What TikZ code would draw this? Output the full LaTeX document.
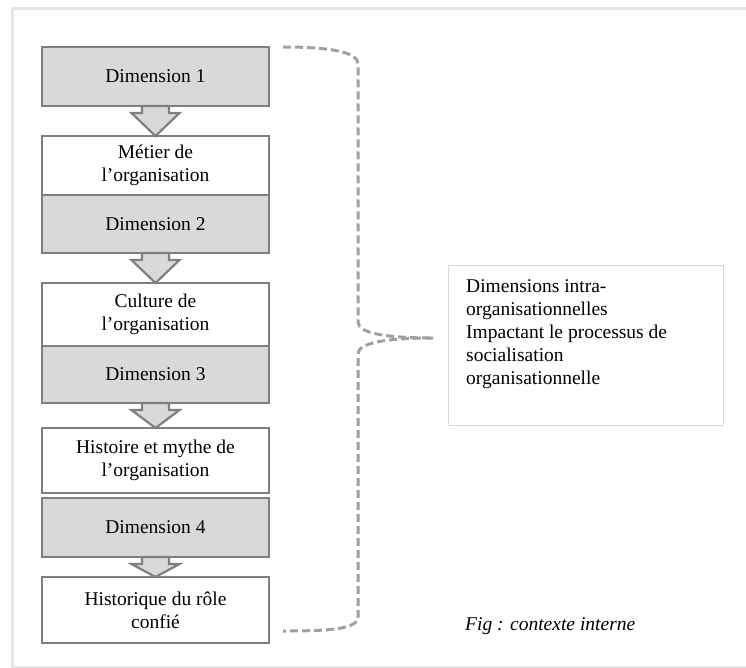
\documentclass[tikz,border=0pt]{standalone}
\usepackage{fontspec}
\setmainfont{Liberation Serif}
\usetikzlibrary{positioning,calc}

\definecolor{bordgris}{HTML}{7F7F7F}
\definecolor{fondgris}{HTML}{D9D9D9}
\definecolor{tiretgris}{HTML}{A0A0A0}
\definecolor{cadregris}{HTML}{E6E6E6}

\tikzset{
  boite/.style={draw=bordgris,line width=2.2pt,minimum width=227pt,
    outer sep=0pt,inner sep=0pt,align=center,
    font=\fontsize{19.5}{23}\selectfont},
  dimbox/.style={boite,fill=fondgris},
  blanc/.style={boite,fill=white},
  fleche/.style={draw=bordgris,line width=2.2pt,fill=fondgris,line join=miter},
  accolade/.style={draw=tiretgris,line width=3pt,dash pattern=on 8pt off 4pt},
  texte/.style={font=\fontsize{19.5}{23}\selectfont,inner sep=0pt,align=left},
}

% fleche pleine entre deux boites
\newcommand{\flechebloc}[2]{%
  \draw[fleche] ($(#1.south)+(-13.5,0)$) -- ($(#1.south)+(13.5,0)$)
    -- ($(#1.south)+(13.5,7)$) -- ($(#1.south)+(24,7)$) -- (#2.north)
    -- ($(#1.south)+(-24,7)$) -- ($(#1.south)+(-13.5,7)$) -- cycle;}

\begin{document}
\begin{tikzpicture}[x=1pt,y=-1pt]
  \useasboundingbox (0,0) rectangle (746,668);
  \draw[cadregris,line width=3pt] (746,9) -- (12,9) -- (12,667) -- (746,667);

  \node[dimbox,minimum height=59pt,anchor=north] (dim1) at (155.5,47) {Dimension 1};
  \node[blanc,minimum height=59pt,below=30pt of dim1] (metier) {Métier de\\l’organisation};
  \node[dimbox,minimum height=58pt,below=0pt of metier] (dim2) {Dimension 2};
  \node[blanc,minimum height=63pt,below=30pt of dim2] (culture) {Culture de\\l’organisation};
  \node[dimbox,minimum height=57pt,below=0pt of culture] (dim3) {Dimension 3};
  \node[blanc,minimum height=65pt,below=25pt of dim3] (histoire) {Histoire et mythe de\\l’organisation};
  \node[dimbox,minimum height=59pt,below=5pt of histoire] (dim4) {Dimension 4};
  \node[blanc,minimum height=66pt,below=20pt of dim4] (historique) {Historique du rôle\\confié};

  \flechebloc{dim1}{metier}
  \flechebloc{dim2}{culture}
  \flechebloc{dim3}{histoire}
  \flechebloc{dim4}{historique}

  % accolade
  \coordinate (haut) at (283,47);
  \coordinate (pointe) at (433,338);
  \coordinate (bas) at (283,631);
  \draw[accolade] (haut) .. controls (330,47) and (358,52) .. (358,64)
    -- (358,322) .. controls (358,334) and (390,338) .. (pointe);
  \draw[accolade] (pointe) .. controls (390,338) and (358,342) .. (358,354)
    -- (358,617) .. controls (358,629) and (330,631) .. (bas);

  \node[draw=fondgris,line width=1pt,minimum width=275pt,minimum height=160pt,
    anchor=north west] (legende) at (448,265) {};
  \node[texte,anchor=north west] (legtexte) at ($(legende.north west)+(18,14)$)
    {Dimensions intra-\\organisationnelles\\Impactant le processus de\\socialisation\\organisationnelle};
  \node[texte,anchor=base west] (fig) at (465,630) {\itshape Fig : contexte interne};
\end{tikzpicture}
\end{document}
